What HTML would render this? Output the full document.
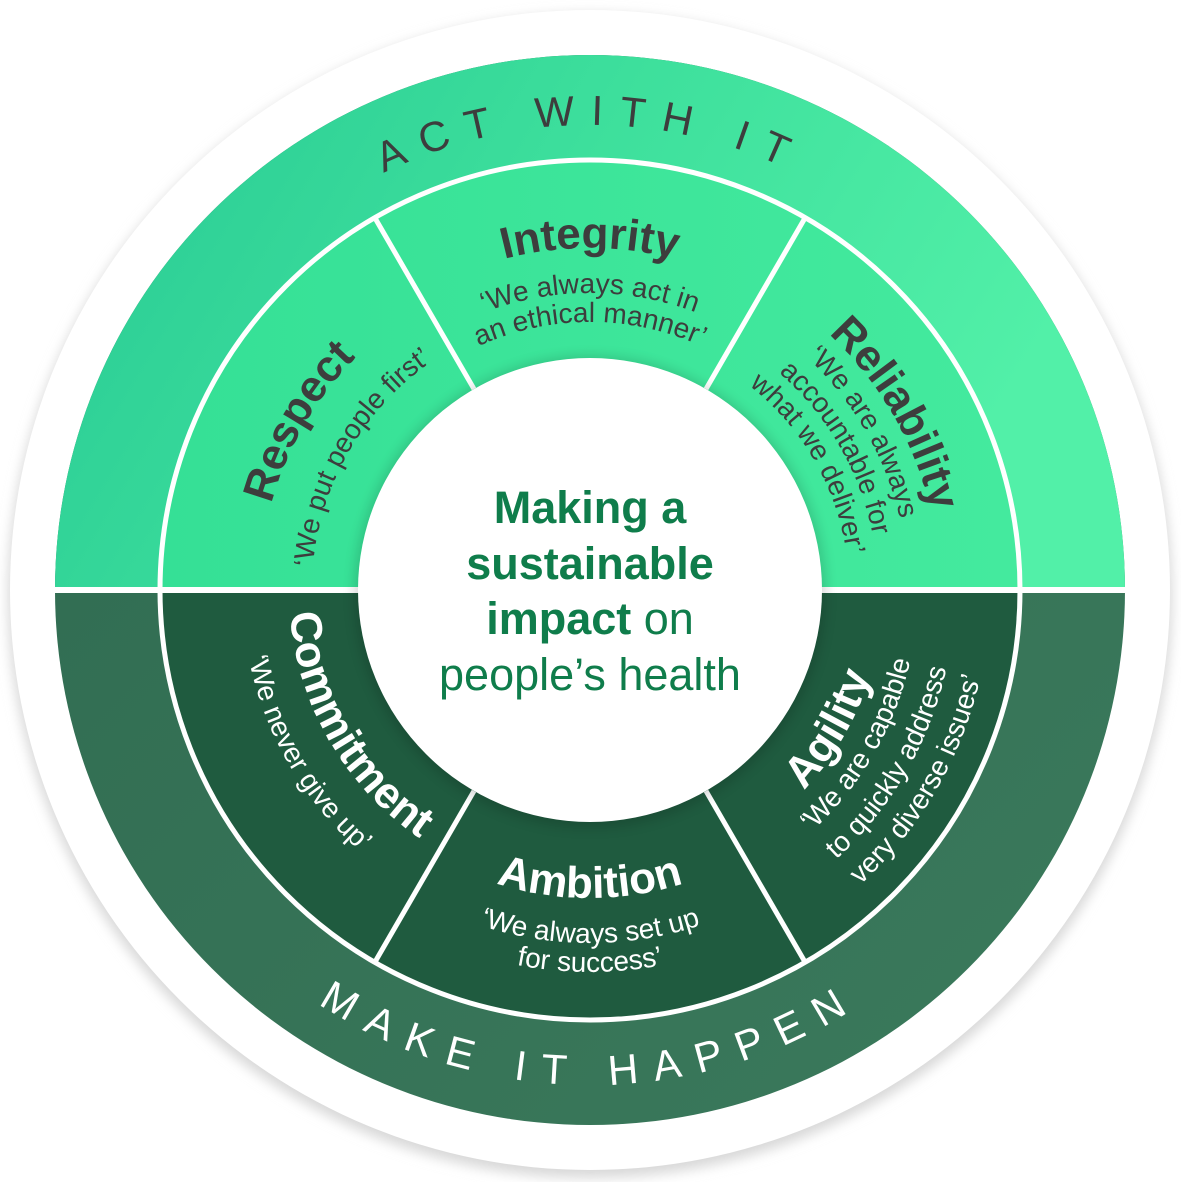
<!DOCTYPE html>
<html><head><meta charset="utf-8"><style>
html,body{margin:0;padding:0;background:#fff;}
svg{display:block;}
text{font-family:"Liberation Sans",Arial,sans-serif;}
</style></head><body>
<svg width="1181" height="1182" viewBox="0 0 1181 1182" xmlns="http://www.w3.org/2000/svg">
<defs>
<filter id="sh" x="-10%" y="-10%" width="120%" height="120%"><feGaussianBlur stdDeviation="6"/></filter>
<linearGradient id="up" x1="0" y1="0" x2="1" y2="0.3"><stop offset="0" stop-color="#27c994"/><stop offset="0.5" stop-color="#3ddf9c"/><stop offset="1" stop-color="#52f0a8"/></linearGradient>
<linearGradient id="dn" x1="0" y1="0" x2="1" y2="1"><stop offset="0" stop-color="#2f6a50"/><stop offset="1" stop-color="#3b7a5c"/></linearGradient>
<linearGradient id="upr" x1="0" y1="0" x2="1" y2="0"><stop offset="0" stop-color="#35e096"/><stop offset="1" stop-color="#44ea9e"/></linearGradient>
<path id="int1" d="M293.8 419 A342 342 0 0 1 886.2 419"/>
<path id="int2" d="M332.8 441.5 A297 297 0 0 1 847.2 441.5"/>
<path id="int3" d="M357.9 456 A268 268 0 0 1 822.1 456"/>
<path id="res1" d="M304.2 755 A330 330 0 0 1 590 260"/>
<path id="res2" d="M349.2 729 A278 278 0 0 1 590 312"/>
<path id="rel1" d="M590 240 A350 350 0 0 1 893.1 765"/>
<path id="rel2" d="M590 272 A318 318 0 0 1 865.4 749"/>
<path id="rel3" d="M590 302 A288 288 0 0 1 839.4 734"/>
<path id="rel4" d="M590 331 A259 259 0 0 1 814.3 719.5"/>
<path id="amb1" d="M323.3 744 A308 308 0 0 0 856.7 744"/>
<path id="amb2" d="M284.3 766.5 A353 353 0 0 0 895.7 766.5"/>
<path id="amb3" d="M259.2 781 A382 382 0 0 0 920.8 781"/>
<path id="com1" d="M329.3 439.5 A301 301 0 0 0 590 891"/>
<path id="com2" d="M288.6 416 A348 348 0 0 0 590 938"/>
<path id="agi1" d="M590 883 A293 293 0 0 0 843.7 443.5"/>
<path id="agi2" d="M590 918 A328 328 0 0 0 874 426"/>
<path id="agi3" d="M590 955 A365 365 0 0 0 906.1 407.5"/>
<path id="agi4" d="M590 990 A400 400 0 0 0 936.4 390"/>
<path id="act" d="M187.3 357.5 A465 465 0 0 1 992.7 357.5"/>
<path id="make" d="M161.3 837.5 A495 495 0 0 0 1018.7 837.5"/>
</defs>
<circle cx="590" cy="596" r="582" fill="#d8d8d8" filter="url(#sh)"/>
<circle cx="590" cy="590" r="580" fill="#fff"/>
<circle cx="590" cy="590" r="535" fill="url(#dn)"/>
<path d="M55 590 A535 535 0 0 1 1125 590 Z" fill="url(#up)"/>
<circle cx="590" cy="590" r="430" fill="#1f5b3f"/>
<path d="M160 590 A430 430 0 0 1 1020 590 Z" fill="url(#upr)"/>
<circle cx="590" cy="590" r="430" fill="none" stroke="#fff" stroke-width="5"/>
<line x1="55" y1="590" x2="1125" y2="590" stroke="#fff" stroke-width="6"/>
<g stroke="#fff" stroke-width="5">
<line x1="474" y1="389" x2="375" y2="218"/><line x1="706" y1="389" x2="805" y2="218"/>
<line x1="474" y1="791" x2="375" y2="962"/><line x1="706" y1="791" x2="805" y2="962"/>
</g>
<circle cx="590" cy="592" r="236" fill="#000" opacity="0.15" filter="url(#sh)"/>
<circle cx="590" cy="590" r="232" fill="#fff"/>

<g fill="#3d3d3d" text-anchor="middle">
<text font-size="44" font-weight="bold"><textPath href="#int1" startOffset="50%">Integrity</textPath></text>
<text font-size="28"><textPath href="#int2" startOffset="50%">‘We always act in</textPath></text>
<text font-size="28"><textPath href="#int3" startOffset="50%">an ethical manner’</textPath></text>
<text font-size="44" font-weight="bold"><textPath href="#res1" startOffset="50%">Respect</textPath></text>
<text font-size="28"><textPath href="#res2" startOffset="50%">‘We put people first’</textPath></text>
<text font-size="44" font-weight="bold"><textPath href="#rel1" startOffset="50%">Reliability</textPath></text>
<text font-size="28"><textPath href="#rel2" startOffset="50%">‘We are always</textPath></text>
<text font-size="28"><textPath href="#rel3" startOffset="50%">accountable for</textPath></text>
<text font-size="28"><textPath href="#rel4" startOffset="50%">what we deliver’</textPath></text>
<text font-size="42" letter-spacing="16"><textPath href="#act" startOffset="50%">ACT WITH IT</textPath></text>
</g>
<g fill="#fff" text-anchor="middle">
<text font-size="44" font-weight="bold"><textPath href="#amb1" startOffset="50%">Ambition</textPath></text>
<text font-size="28"><textPath href="#amb2" startOffset="50%">‘We always set up</textPath></text>
<text font-size="28"><textPath href="#amb3" startOffset="50%">for success’</textPath></text>
<text font-size="44" font-weight="bold"><textPath href="#com1" startOffset="50%">Commitment</textPath></text>
<text font-size="28"><textPath href="#com2" startOffset="50%">‘We never give up’</textPath></text>
<text font-size="44" font-weight="bold"><textPath href="#agi1" startOffset="50%">Agility</textPath></text>
<text font-size="28"><textPath href="#agi2" startOffset="50%">‘We are capable</textPath></text>
<text font-size="28"><textPath href="#agi3" startOffset="50%">to quickly address</textPath></text>
<text font-size="28"><textPath href="#agi4" startOffset="50%">very diverse issues’</textPath></text>
<text font-size="42" letter-spacing="16"><textPath href="#make" startOffset="50%">MAKE IT HAPPEN</textPath></text>
</g>
<g fill="#0f7d4b" text-anchor="middle" font-size="45">
<text x="590" y="523" font-weight="bold">Making a</text>
<text x="590" y="579" font-weight="bold">sustainable</text>
<text x="590" y="634"><tspan font-weight="bold">impact</tspan> on</text>
<text x="590" y="690">people’s health</text>
</g>
</svg>
</body></html>
